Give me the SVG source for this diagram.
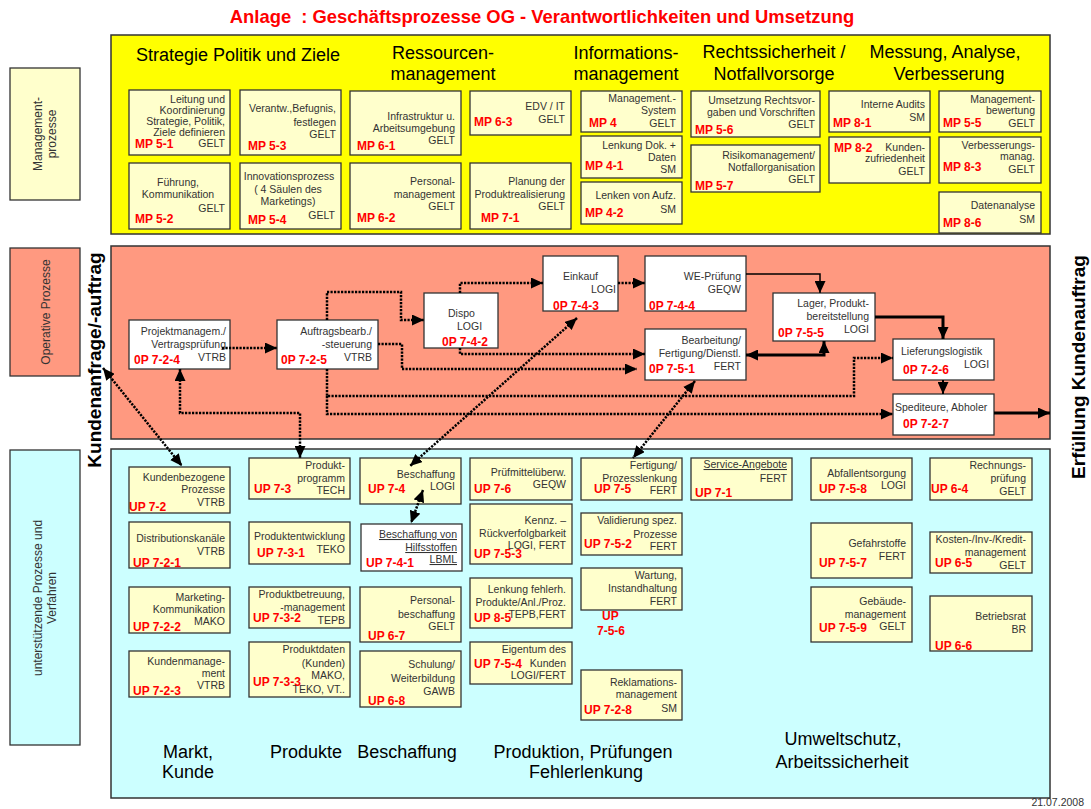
<svg xmlns="http://www.w3.org/2000/svg" width="1091" height="809" viewBox="0 0 1091 809">
<style>
text{font-family:"Liberation Sans",Arial,sans-serif}
.t{font-size:10.5px;fill:#333}
.e{text-anchor:end}
.m{text-anchor:middle}
.r{font-size:12px;font-weight:bold;fill:#FF0000}
.h{font-size:18px;fill:#000;text-anchor:middle}
.v{font-size:19px;font-weight:bold;fill:#000;text-anchor:middle}
.bx{fill:#FFFFCC;stroke:#333;stroke-width:1.3}
.wb{fill:#FFFFFF;stroke:#333;stroke-width:1.3}
.dot{fill:none;stroke:#000;stroke-width:2.5;stroke-dasharray:2.2 1.3}
.sol{fill:none;stroke:#000;stroke-width:1.5}
.thk{fill:none;stroke:#000;stroke-width:3}
.u{text-decoration:underline}
.lab{font-size:12px;fill:#333;text-anchor:middle}
</style>
<defs>
<marker id="ah" markerUnits="userSpaceOnUse" markerWidth="12" markerHeight="11" refX="12" refY="5.5" orient="auto-start-reverse"><path d="M0,0 L12,5.5 L0,11 z" fill="#000"/></marker>
</defs>
<rect width="1091" height="809" fill="#fff"/>
<text x="542" y="23" style="font-size:18.4px;font-weight:bold;fill:#FF0000;text-anchor:middle;white-space:pre">Anlage  : Geschäftsprozesse OG - Verantwortlichkeiten und Umsetzung</text>

<g id="panels">
<rect x="111" y="35" width="939" height="199" fill="#FFFF00" stroke="#333" stroke-width="1.5"/>
<rect x="111" y="246" width="939" height="193" fill="#FF9980" stroke="#333" stroke-width="1.5"/>
<rect x="111" y="449" width="939" height="349" fill="#CCFFFF" stroke="#333" stroke-width="1.5"/>
</g>

<g id="lane-labels">
<rect x="10" y="68" width="70" height="132" fill="#FFFFCC" stroke="#333" stroke-width="1.3"/>
<text class="lab" transform="translate(42,134) rotate(-90)">Management-</text>
<text class="lab" transform="translate(56,134) rotate(-90)">prozesse</text>
<rect x="10" y="248" width="70" height="128" fill="#FF9980" stroke="#333" stroke-width="1.3"/>
<text class="lab" transform="translate(50,312) rotate(-90)">Operative Prozesse</text>
<rect x="10" y="450" width="70" height="295" fill="#CCFFFF" stroke="#333" stroke-width="1.3"/>
<text class="lab" transform="translate(42,598) rotate(-90)">unterstützende Prozesse und</text>
<text class="lab" transform="translate(56,598) rotate(-90)">Verfahren</text>
<text class="v" transform="translate(101,360) rotate(-90)">Kundenanfrage/-auftrag</text>
<text class="v" transform="translate(1085,367) rotate(-90)">Erfüllung Kundenauftrag</text>
</g>

<g id="headings">
<text class="h" x="238" y="61">Strategie Politik und Ziele</text>
<text class="h" x="443" y="59">Ressourcen-</text><text class="h" x="443" y="80">management</text>
<text class="h" x="626" y="59">Informations-</text><text class="h" x="626" y="80">management</text>
<text class="h" x="774" y="58">Rechtssicherheit /</text><text class="h" x="774" y="80">Notfallvorsorge</text>
<text class="h" x="945" y="58">Messung, Analyse,</text><text class="h" x="949" y="80">Verbesserung</text>
<text class="h" x="188" y="758">Markt,</text><text class="h" x="188" y="778">Kunde</text>
<text class="h" x="306" y="758">Produkte</text>
<text class="h" x="407" y="758">Beschaffung</text>
<text class="h" x="583" y="758">Produktion, Prüfungen</text><text class="h" x="586" y="778">Fehlerlenkung</text>
<text class="h" x="843" y="745">Umweltschutz,</text><text class="h" x="842" y="768">Arbeitssicherheit</text>
</g>

<!-- Management nodes -->
<g id="mp5-1"><rect class="bx" x="129" y="90" width="101" height="65"/>
<text class="t e" x="225" y="103">Leitung und</text><text class="t e" x="225" y="114">Koordinierung</text><text class="t e" x="225" y="125">Strategie, Politik,</text><text class="t e" x="225" y="136">Ziele definieren</text><text class="t e" x="225" y="147">GELT</text><text class="r" x="135" y="148">MP 5-1</text></g>
<g id="mp5-3"><rect class="bx" x="240" y="90" width="101" height="65"/>
<text class="t e" x="336" y="112">Verantw.,Befugnis,</text><text class="t e" x="336" y="126">festlegen</text><text class="t e" x="336" y="138">GELT</text><text class="r" x="248" y="150">MP 5-3</text></g>
<g id="mp5-2"><rect class="bx" x="129" y="163" width="101" height="66"/>
<text class="t m" x="178" y="186">Führung,</text><text class="t m" x="178" y="198">Kommunikation</text><text class="t e" x="225" y="212">GELT</text><text class="r" x="135" y="223">MP 5-2</text></g>
<g id="mp5-4"><rect class="bx" x="240" y="163" width="101" height="66"/>
<text class="t m" x="289" y="180">Innovationsprozess</text><text class="t m" x="288" y="193">( 4 Säulen des</text><text class="t m" x="288" y="205">Marketings)</text><text class="t e" x="335" y="219">GELT</text><text class="r" x="248" y="224">MP 5-4</text></g>
<g id="mp6-1"><rect class="bx" x="350" y="91" width="111" height="64"/>
<text class="t e" x="455" y="120">Infrastruktur u.</text><text class="t e" x="455" y="132">Arbeitsumgebung</text><text class="t e" x="455" y="144">GELT</text><text class="r" x="357" y="150">MP 6-1</text></g>
<g id="mp6-3"><rect class="bx" x="470" y="91" width="101" height="44"/>
<text class="t e" x="565" y="110">EDV / IT</text><text class="t e" x="565" y="123">GELT</text><text class="r" x="474" y="126">MP 6-3</text></g>
<g id="mp6-2"><rect class="bx" x="350" y="163" width="111" height="66"/>
<text class="t e" x="455" y="185">Personal-</text><text class="t e" x="455" y="198">management</text><text class="t e" x="455" y="210">GELT</text><text class="r" x="357" y="222">MP 6-2</text></g>
<g id="mp7-1"><rect class="bx" x="470" y="163" width="101" height="66"/>
<text class="t e" x="565" y="185">Planung der</text><text class="t e" x="565" y="198">Produktrealisierung</text><text class="t e" x="565" y="210">GELT</text><text class="r" x="481" y="222">MP 7-1</text></g>
<g id="mp4"><rect class="bx" x="581" y="91" width="101" height="41"/>
<text class="t e" x="676" y="102">Management.-</text><text class="t e" x="676" y="114">System</text><text class="t e" x="676" y="127">GELT</text><text class="r" x="589" y="127">MP 4</text></g>
<g id="mp4-1"><rect class="bx" x="581" y="136" width="101" height="42"/>
<text class="t e" x="676" y="149">Lenkung Dok. +</text><text class="t e" x="676" y="161">Daten</text><text class="t e" x="676" y="173">SM</text><text class="r" x="585" y="170">MP 4-1</text></g>
<g id="mp4-2"><rect class="bx" x="581" y="182" width="101" height="42"/>
<text class="t e" x="676" y="199">Lenken von Aufz.</text><text class="t e" x="676" y="213">SM</text><text class="r" x="585" y="217">MP 4-2</text></g>
<g id="mp5-6"><rect class="bx" x="691" y="91" width="129" height="46"/>
<text class="t e" x="815" y="104">Umsetzung Rechtsvor-</text><text class="t e" x="815" y="116">gaben und Vorschriften</text><text class="t e" x="815" y="128">GELT</text><text class="r" x="695" y="134">MP 5-6</text></g>
<g id="mp5-7"><rect class="bx" x="691" y="145" width="129" height="47"/>
<text class="t e" x="815" y="159">Risikomanagement/</text><text class="t e" x="815" y="171">Notfallorganisation</text><text class="t e" x="815" y="183">GELT</text><text class="r" x="695" y="190">MP 5-7</text></g>
<g id="mp8-1"><rect class="bx" x="829" y="91" width="101" height="41"/>
<text class="t e" x="925" y="108">Interne Audits</text><text class="t e" x="925" y="121">SM</text><text class="r" x="833" y="127">MP 8-1</text></g>
<g id="mp8-2"><rect class="bx" x="829" y="137" width="101" height="46"/>
<text class="t e" x="925" y="151">Kunden-</text><text class="t e" x="925" y="162">zufriedenheit</text><text class="t e" x="925" y="175">GELT</text><text class="r" x="834" y="152">MP 8-2</text></g>
<g id="mp5-5"><rect class="bx" x="939" y="91" width="102" height="41"/>
<text class="t e" x="1035" y="103">Management-</text><text class="t e" x="1035" y="114">bewertung</text><text class="t e" x="1035" y="127">GELT</text><text class="r" x="943" y="127">MP 5-5</text></g>
<g id="mp8-3"><rect class="bx" x="939" y="137" width="102" height="46"/>
<text class="t e" x="1035" y="149">Verbesserungs-</text><text class="t e" x="1035" y="160">manag.</text><text class="t e" x="1035" y="173">GELT</text><text class="r" x="943" y="171">MP 8-3</text></g>
<g id="mp8-6"><rect class="bx" x="939" y="192" width="102" height="41"/>
<text class="t e" x="1035" y="209">Datenanalyse</text><text class="t e" x="1035" y="223">SM</text><text class="r" x="943" y="227">MP 8-6</text></g>

<!-- Operative nodes -->
<g id="op7-2-4"><rect class="wb" x="129" y="320" width="101" height="49"/>
<text class="t e" x="226" y="335">Projektmanagem./</text><text class="t e" x="226" y="348">Vertragsprüfung</text><text class="t e" x="226" y="361">VTRB</text><text class="r" x="134" y="364">0P 7-2-4</text></g>
<g id="op7-2-5"><rect class="wb" x="277" y="320" width="101" height="49"/>
<text class="t e" x="372" y="335">Auftragsbearb./</text><text class="t e" x="372" y="348">-steuerung</text><text class="t e" x="372" y="361">VTRB</text><text class="r" x="281" y="364">0P 7-2-5</text></g>
<g id="op7-4-2"><rect class="wb" x="424" y="293" width="74" height="55"/>
<text class="t" x="448" y="317">Dispo</text><text class="t" x="457" y="330">LOGI</text><text class="r" x="442" y="346">0P 7-4-2</text></g>
<g id="op7-4-3"><rect class="wb" x="543" y="256" width="75" height="55"/>
<text class="t" x="563" y="280">Einkauf</text><text class="t e" x="616" y="293">LOGI</text><text class="r" x="553" y="310">0P 7-4-3</text></g>
<g id="op7-4-4"><rect class="wb" x="645" y="256" width="101" height="55"/>
<text class="t e" x="741" y="280">WE-Prüfung</text><text class="t e" x="741" y="293">GEQW</text><text class="r" x="649" y="310">0P 7-4-4</text></g>
<g id="op7-5-1"><rect class="wb" x="645" y="329" width="101" height="51"/>
<text class="t e" x="741" y="344">Bearbeitung/</text><text class="t e" x="741" y="357">Fertigung/Dienstl.</text><text class="t e" x="741" y="370">FERT</text><text class="r" x="649" y="373">0P 7-5-1</text></g>
<g id="op7-5-5"><rect class="wb" x="773" y="293" width="102" height="48"/>
<text class="t e" x="869" y="307">Lager, Produkt-</text><text class="t e" x="869" y="320">bereitstellung</text><text class="t e" x="869" y="333">LOGI</text><text class="r" x="778" y="337">0P 7-5-5</text></g>
<g id="op7-2-6"><rect class="wb" x="893" y="339" width="101" height="41"/>
<text class="t" x="901" y="355">Lieferungslogistik</text><text class="t" x="964" y="368">LOGI</text><text class="r" x="903" y="374">0P 7-2-6</text></g>
<g id="op7-2-7"><rect class="wb" x="893" y="394" width="101" height="41"/>
<text class="t" x="895" y="411">Spediteure, Abholer</text><text class="r" x="903" y="428">0P 7-2-7</text></g>

<!-- Support nodes -->
<g id="up7-2"><rect class="bx" x="129" y="467" width="101" height="46"/>
<text class="t e" x="225" y="481">Kundenbezogene</text><text class="t e" x="225" y="493">Prozesse</text><text class="t e" x="225" y="506">VTRB</text><text class="r" x="129" y="511">UP 7-2</text></g>
<g id="up7-2-1"><rect class="bx" x="129" y="522" width="101" height="46"/>
<text class="t e" x="225" y="542">Distributionskanäle</text><text class="t e" x="225" y="555">VTRB</text><text class="r" x="133" y="567">UP 7-2-1</text></g>
<g id="up7-2-2"><rect class="bx" x="129" y="587" width="101" height="46"/>
<text class="t e" x="225" y="601">Marketing-</text><text class="t e" x="225" y="613">Kommunikation</text><text class="t e" x="225" y="625">MAKO</text><text class="r" x="133" y="631">UP 7-2-2</text></g>
<g id="up7-2-3"><rect class="bx" x="129" y="651" width="101" height="46"/>
<text class="t e" x="225" y="665">Kundenmanage-</text><text class="t e" x="225" y="677">ment</text><text class="t e" x="225" y="689">VTRB</text><text class="r" x="133" y="695">UP 7-2-3</text></g>
<g id="up7-3"><rect class="bx" x="249" y="458" width="101" height="41"/>
<text class="t e" x="345" y="469">Produkt-</text><text class="t e" x="345" y="482">programm</text><text class="t e" x="345" y="494">TECH</text><text class="r" x="254" y="493">UP 7-3</text></g>
<g id="up7-3-1"><rect class="bx" x="249" y="522" width="101" height="42"/>
<text class="t e" x="345" y="540">Produktentwicklung</text><text class="t e" x="345" y="553">TEKO</text><text class="r" x="257" y="557">UP 7-3-1</text></g>
<g id="up7-3-2"><rect class="bx" x="249" y="587" width="101" height="41"/>
<text class="t e" x="345" y="598">Produktbetreuung,</text><text class="t e" x="345" y="611">-management</text><text class="t e" x="345" y="624">TEPB</text><text class="r" x="253" y="622">UP 7-3-2</text></g>
<g id="up7-3-3"><rect class="bx" x="249" y="642" width="101" height="55"/>
<text class="t e" x="345" y="653">Produktdaten</text><text class="t e" x="345" y="667">(Kunden)</text><text class="t e" x="345" y="679">MAKO,</text><text class="t e" x="345" y="693">TEKO, VT..</text><text class="r" x="253" y="686">UP 7-3-3</text></g>
<g id="up7-4"><rect class="bx" x="360" y="458" width="101" height="46"/>
<text class="t e" x="455" y="478">Beschaffung</text><text class="t e" x="455" y="490">LOGI</text><text class="r" x="368" y="493">UP 7-4</text></g>
<g id="up7-4-1"><rect class="wb" x="361" y="524" width="101" height="47"/>
<text class="t e u" x="457" y="538">Beschaffung von</text><text class="t e u" x="457" y="551">Hilfsstoffen</text><text class="t e u" x="457" y="563">LBML</text><text class="r" x="366" y="567">UP 7-4-1</text></g>
<g id="up6-7"><rect class="bx" x="360" y="587" width="101" height="55"/>
<text class="t e" x="455" y="604">Personal-</text><text class="t e" x="455" y="618">beschaffung</text><text class="t e" x="455" y="630">GELT</text><text class="r" x="368" y="640">UP 6-7</text></g>
<g id="up6-8"><rect class="bx" x="360" y="651" width="101" height="56"/>
<text class="t e" x="455" y="668">Schulung/</text><text class="t e" x="455" y="682">Weiterbildung</text><text class="t e" x="455" y="695">GAWB</text><text class="r" x="368" y="705">UP 6-8</text></g>
<g id="up7-6"><rect class="bx" x="470" y="458" width="102" height="42"/>
<text class="t e" x="566" y="476">Prüfmittelüberw.</text><text class="t e" x="566" y="488">GEQW</text><text class="r" x="474" y="493">UP 7-6</text></g>
<g id="up7-5-3"><rect class="bx" x="470" y="504" width="102" height="60"/>
<text class="t e" x="566" y="524">Kennz. –</text><text class="t e" x="566" y="537">Rückverfolgbarkeit</text><text class="t e" x="566" y="549">LOGI, FERT</text><text class="r" x="474" y="558">UP 7-5-3</text></g>
<g id="up8-5"><rect class="bx" x="470" y="578" width="102" height="50"/>
<text class="t e" x="566" y="593">Lenkung fehlerh.</text><text class="t e" x="566" y="606">Produkte/Anl./Proz.</text><text class="t e" x="566" y="618">TEPB,FERT</text><text class="r" x="474" y="622">UP 8-5</text></g>
<g id="up7-5-4"><rect class="bx" x="470" y="642" width="102" height="42"/>
<text class="t e" x="566" y="653">Eigentum des</text><text class="t e" x="566" y="667">Kunden</text><text class="t e" x="566" y="679">LOGI/FERT</text><text class="r" x="474" y="668">UP 7-5-4</text></g>
<g id="up7-5"><rect class="bx" x="581" y="458" width="101" height="42"/>
<text class="t e" x="677" y="469">Fertigung/</text><text class="t e" x="677" y="482">Prozesslenkung</text><text class="t e" x="677" y="494">FERT</text><text class="r" x="594" y="493">UP 7-5</text></g>
<g id="up7-5-2"><rect class="bx" x="581" y="513" width="101" height="42"/>
<text class="t e" x="677" y="524">Validierung spez.</text><text class="t e" x="677" y="538">Prozesse</text><text class="t e" x="677" y="550">FERT</text><text class="r" x="584" y="548">UP 7-5-2</text></g>
<g id="up7-5-6"><rect class="bx" x="581" y="568" width="101" height="42"/>
<text class="t e" x="677" y="579">Wartung,</text><text class="t e" x="677" y="592">Instandhaltung</text><text class="t e" x="677" y="605">FERT</text><text class="r" x="602" y="620">UP</text><text class="r" x="597" y="635">7-5-6</text></g>
<g id="up7-2-8"><rect class="bx" x="581" y="670" width="101" height="50"/>
<text class="t e" x="677" y="686">Reklamations-</text><text class="t e" x="677" y="698">management</text><text class="t e" x="677" y="712">SM</text><text class="r" x="584" y="714">UP 7-2-8</text></g>
<g id="up7-1"><rect class="bx" x="691" y="458" width="101" height="42"/>
<text class="t e u" x="787" y="468">Service-Angebote</text><text class="t e" x="787" y="482">FERT</text><text class="r" x="695" y="497">UP 7-1</text></g>
<g id="up7-5-8"><rect class="bx" x="811" y="458" width="101" height="42"/>
<text class="t e" x="906" y="477">Abfallentsorgung</text><text class="t e" x="906" y="489">LOGI</text><text class="r" x="819" y="493">UP 7-5-8</text></g>
<g id="up7-5-7"><rect class="bx" x="811" y="523" width="101" height="55"/>
<text class="t e" x="906" y="547">Gefahrstoffe</text><text class="t e" x="906" y="560">FERT</text><text class="r" x="819" y="567">UP 7-5-7</text></g>
<g id="up7-5-9"><rect class="bx" x="811" y="587" width="101" height="55"/>
<text class="t e" x="906" y="605">Gebäude-</text><text class="t e" x="906" y="618">management</text><text class="t e" x="906" y="630">GELT</text><text class="r" x="819" y="632">UP 7-5-9</text></g>
<g id="up6-4"><rect class="bx" x="930" y="458" width="102" height="42"/>
<text class="t e" x="1026" y="469">Rechnungs-</text><text class="t e" x="1026" y="482">prüfung</text><text class="t e" x="1026" y="495">GELT</text><text class="r" x="931" y="493">UP 6-4</text></g>
<g id="up6-5"><rect class="bx" x="930" y="532" width="102" height="41"/>
<text class="t e" x="1026" y="543">Kosten-/Inv-/Kredit-</text><text class="t e" x="1026" y="556">management</text><text class="t e" x="1026" y="569">GELT</text><text class="r" x="935" y="567">UP 6-5</text></g>
<g id="up6-6"><rect class="bx" x="930" y="596" width="102" height="55"/>
<text class="t e" x="1026" y="620">Betriebsrat</text><text class="t e" x="1026" y="633">BR</text><text class="r" x="935" y="650">UP 6-6</text></g>

<g id="connectors">
<path class="dot" d="M222,348 H277" marker-end="url(#ah)"/>
<path class="dot" d="M327,320 V292 H401 V320 H424" marker-end="url(#ah)"/>
<path class="dot" d="M378,344 H402 V369 H637" marker-end="url(#ah)"/>
<path class="dot" d="M460,293 V283 H543" marker-end="url(#ah)"/>
<path class="dot" d="M460,348 V354 H645" marker-end="url(#ah)"/>
<path class="dot" d="M618,283 H645" marker-end="url(#ah)"/>
<path class="sol" d="M746,274 H820 V293" marker-end="url(#ah)"/>
<path class="thk" d="M875,317 H943 V339" marker-end="url(#ah)"/>
<path class="thk" d="M746,355 H824 V341" marker-start="url(#ah)" marker-end="url(#ah)"/>
<path class="sol" style="stroke-width:2" d="M943,380 V394" marker-end="url(#ah)"/>
<path class="thk" d="M994,413 H1050" marker-end="url(#ah)"/>
<path class="dot" d="M327,369 V396 H854 V358 H893" marker-end="url(#ah)"/>
<path class="dot" d="M327,396 V414 H893" marker-end="url(#ah)"/>
<path class="dot" d="M180,369 V413 H300 V458" marker-start="url(#ah)" marker-end="url(#ah)"/>
<path class="dot" d="M103,368 L182,466" marker-start="url(#ah)" marker-end="url(#ah)"/>
<path class="dot" d="M577,318 L410,466" marker-start="url(#ah)" marker-end="url(#ah)"/>
<path class="dot" d="M695,381 L633,458" marker-start="url(#ah)" marker-end="url(#ah)"/>
<path class="dot" d="M423,490 L411,523" marker-start="url(#ah)" marker-end="url(#ah)"/>
</g>

<text class="t e" x="1084" y="806">21.07.2008</text>
</svg>
